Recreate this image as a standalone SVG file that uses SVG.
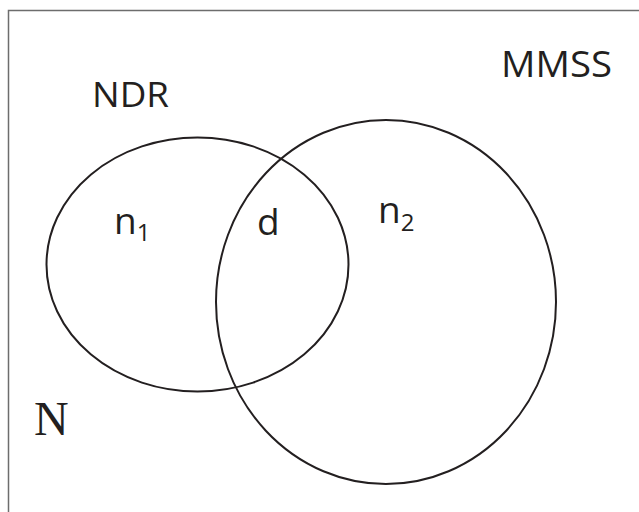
<svg xmlns="http://www.w3.org/2000/svg" width="639" height="512" viewBox="0 0 639 512">
<style>
.set{fill:none;stroke:#231f20;stroke-width:2}
.lbl{font-family:"Open Sans","Liberation Sans",sans-serif;fill:#231f20}
.frame{stroke:#6d6d6d;stroke-width:1.5;fill:none}
</style>
<rect width="639" height="512" fill="#fff"/>
<path class="frame" d="M8.5 520 V10.5 H645"/>
<g id="NDR">
<ellipse class="set" cx="197.5" cy="264.5" rx="151" ry="127"/>
<text class="lbl" x="92" y="107" font-size="35" textLength="77" lengthAdjust="spacingAndGlyphs">NDR</text>
</g>
<g id="MMSS">
<ellipse class="set" cx="386" cy="302" rx="170" ry="182"/>
<text class="lbl" x="501" y="77" font-size="36" textLength="111" lengthAdjust="spacingAndGlyphs">MMSS</text>
</g>
<g id="n1"><text class="lbl" x="114" y="234" font-size="37">n<tspan font-size="24" dy="7">1</tspan></text></g>
<g id="d"><text class="lbl" x="257" y="235" font-size="37">d</text></g>
<g id="n2"><text class="lbl" x="378" y="223" font-size="37">n<tspan font-size="24" dy="8">2</tspan></text></g>
<g id="N"><text x="34" y="435" font-family="'Liberation Serif',serif" font-size="48" fill="#231f20">N</text></g>
</svg>
